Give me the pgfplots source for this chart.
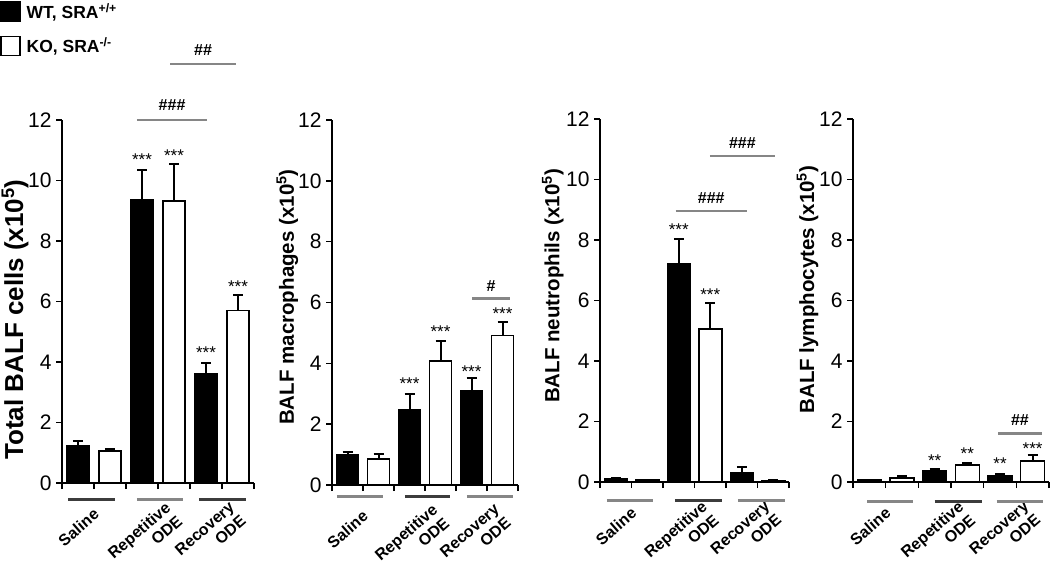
\documentclass[border=0pt]{standalone}
\usepackage{fontspec}
\setmainfont{Liberation Sans}
\usepackage{pgfplots}
\usepackage{pgfplotstable}
\pgfplotsset{compat=1.18}
\definecolor{dk}{HTML}{3C3C3C}
\definecolor{gr}{HTML}{868686}

\pgfplotstableread{
x y e
0.5 1.24 0.14
2.5 9.38 0.96
4.5 3.60 0.36
}\wtA
\pgfplotstableread{
x y e
1.5 1.05 0.08
3.5 9.33 1.23
5.5 5.70 0.52
}\koA
\pgfplotstableread{
x y e
0.5 1.00 0.08
2.5 2.47 0.51
4.5 3.10 0.42
}\wtB
\pgfplotstableread{
x y e
1.5 0.86 0.17
3.5 4.07 0.68
5.5 4.91 0.44
}\koB
\pgfplotstableread{
x y e
0.5 0.11 0.02
2.5 7.20 0.82
4.5 0.30 0.20
}\wtC
\pgfplotstableread{
x y e
1.5 0.06 0.02
3.5 5.05 0.88
5.5 0.05 0.01
}\koC
\pgfplotstableread{
x y e
0.5 0.06 0.01
2.5 0.38 0.05
4.5 0.22 0.06
}\wtD
\pgfplotstableread{
x y e
1.5 0.14 0.07
3.5 0.56 0.07
5.5 0.69 0.19
}\koD

\pgfplotsset{
 panel/.style={
  scale only axis, clip=false,
  axis lines*=left, axis line style={line width=1.4bp, black},
  xmin=0, xmax=6, ymin=0, ymax=12,
  ytick={0,2,...,12}, xtick={0,...,6}, xticklabels={},
  tick align=outside, major tick length=6bp, tick style={line width=1.4bp, black},
  extra x ticks={1,3,5},
  extra x tick labels={Saline\hspace*{10bp},{Repetitive\\ODE},{Recovery\\ODE}},
  extra x tick style={major tick length=0pt,
    xticklabel style={xshift=6bp, yshift=-17.5bp, rotate=41, anchor=north east, align=right, inner sep=0pt,
      font=\bfseries\fontsize{16bp}{18bp}\selectfont}},
  yticklabel style={font=\fontsize{21bp}{21bp}\selectfont, xshift=-1bp},
  /pgf/number format/assume math mode=true,
  ylabel style={font=\bfseries\fontsize{20.5bp}{21bp}\selectfont, anchor=center},
 },
 ebar/.style={error bars/y dir=plus, error bars/y explicit,
   error bars/error bar style={line width=2bp, black},
   error bars/error mark options={rotate=90, mark size=5bp, line width=2bp, black}},
 wt/.style={ybar, bar shift=0pt, fill=black, draw=black, line width=1.5bp, ebar},
 ko/.style={ybar, bar shift=0pt, fill=white, draw=black, line width=1.5bp, ebar},
 sig/.style={gr, line width=2.5bp, forget plot},
}
\newcommand{\st}[3]{\node[font=\fontsize{17bp}{17bp}\selectfont, anchor=base, inner sep=0pt] at (axis cs:#1,#2) {#3};}
\newcommand{\hs}[3]{\node[font=\bfseries\fontsize{16bp}{16bp}\selectfont, anchor=center, inner sep=0pt] at (axis cs:#1,#2) {#3};}

\begin{document}
\begin{tikzpicture}
\path[use as bounding box] (0,0) rectangle (1050bp,561bp);

% Panel 1
\begin{axis}[panel, at={(62bp,78bp)}, anchor=south west, width=192bp, height=363bp,
  ylabel={Total BALF cells (x10\textsuperscript{5})},
  ylabel style={at={(axis description cs:-0.245,0.45)}, font=\bfseries\fontsize{26bp}{26bp}\selectfont},
  legend style={at={(axis description cs:-0.323,1.328)}, anchor=north west, draw=none, fill=none,
    inner sep=0pt, font=\bfseries\fontsize{17.5bp}{18bp}\selectfont, row sep=14bp},
  legend cell align=left]
\addplot[wt, bar width=22bp, legend image code/.code={\draw[fill=black, draw=black, line width=1.5bp] (0bp,-9.5bp) rectangle (19bp,9.5bp);}] table[x=x, y=y, y error=e] {\wtA};
\addlegendentry{\hspace*{4bp}WT, SRA\textsuperscript{+/+}}
\addplot[ko, bar width=22bp, legend image code/.code={\draw[fill=white, draw=black, line width=1.5bp] (0bp,-9.5bp) rectangle (19bp,9.5bp);}] table[x=x, y=y, y error=e] {\koA};
\addlegendentry{\hspace*{4bp}KO, SRA\textsuperscript{-/-}}
\addplot[dk, line width=3bp, forget plot] coordinates {(0.19,-0.53) (1.66,-0.53)};
\addplot[gr, line width=3bp, forget plot] coordinates {(2.34,-0.53) (3.78,-0.53)};
\addplot[dk, line width=3bp, forget plot] coordinates {(4.28,-0.53) (5.75,-0.53)};
\addplot[sig] coordinates {(2.34,12.0) (4.53,12.0)};
\addplot[sig] coordinates {(3.38,13.85) (5.44,13.85)};
\st{2.5}{10.5}{***}\st{3.5}{10.62}{***}\st{4.5}{4.1}{***}\st{5.5}{6.3}{***}
\hs{3.44}{12.5}{\#\#\#}\hs{4.41}{14.3}{\#\#}
\end{axis}

% Panel 2
\begin{axis}[panel, at={(332bp,76bp)}, anchor=south west, width=186bp, height=365bp,
  ylabel={BALF macrophages (x10\textsuperscript{5})},
  ylabel style={at={(axis description cs:-0.24,0.515)}}]
\addplot[wt, bar width=22bp] table[x=x, y=y, y error=e] {\wtB};
\addplot[ko, bar width=22bp] table[x=x, y=y, y error=e] {\koB};
\addplot[gr, line width=3bp] coordinates {(0.16,-0.37) (1.65,-0.37)};
\addplot[dk, line width=3bp] coordinates {(2.35,-0.37) (3.80,-0.37)};
\addplot[gr, line width=3bp] coordinates {(4.35,-0.37) (5.84,-0.37)};
\addplot[sig] coordinates {(4.52,6.13) (5.74,6.13)};
\st{2.5}{3.13}{***}\st{3.5}{4.85}{***}\st{4.5}{3.55}{***}\st{5.5}{5.45}{***}
\hs{5.13}{6.55}{\#}
\end{axis}

% Panel 3
\begin{axis}[panel, at={(600bp,79bp)}, anchor=south west, width=189bp, height=363bp,
  ylabel={BALF neutrophils (x10\textsuperscript{5})},
  ylabel style={at={(axis description cs:-0.25,0.54)}}]
\addplot[wt, bar width=23bp] table[x=x, y=y, y error=e] {\wtC};
\addplot[ko, bar width=23bp] table[x=x, y=y, y error=e] {\koC};
\addplot[gr, line width=3bp] coordinates {(0.22,-0.6) (1.68,-0.6)};
\addplot[dk, line width=3bp] coordinates {(2.38,-0.6) (3.87,-0.6)};
\addplot[gr, line width=3bp] coordinates {(4.38,-0.6) (5.87,-0.6)};
\addplot[sig] coordinates {(2.40,8.96) (4.66,8.96)};
\addplot[sig] coordinates {(3.49,10.78) (5.56,10.78)};
\st{2.5}{8.16}{***}\st{3.5}{6.01}{***}
\hs{3.53}{9.4}{\#\#\#}\hs{4.52}{11.2}{\#\#\#}
\end{axis}

% Panel 4
\begin{axis}[panel, at={(853bp,79bp)}, anchor=south west, width=196bp, height=363bp,
  ylabel={BALF lymphocytes (x10\textsuperscript{5})},
  ylabel style={at={(axis description cs:-0.232,0.53)}}]
\addplot[wt, bar width=24bp] table[x=x, y=y, y error=e] {\wtD};
\addplot[ko, bar width=24bp] table[x=x, y=y, y error=e] {\koD};
\addplot[gr, line width=3bp] coordinates {(0.43,-0.64) (1.84,-0.64)};
\addplot[dk, line width=3bp] coordinates {(2.50,-0.64) (3.96,-0.64)};
\addplot[gr, line width=3bp] coordinates {(4.40,-0.64) (5.83,-0.64)};
\addplot[sig] coordinates {(4.45,1.61) (5.78,1.61)};
\st{2.5}{0.5}{**}\st{3.5}{0.76}{**}\st{4.5}{0.42}{**}\st{5.5}{0.92}{***}
\hs{5.11}{2.05}{\#\#}
\end{axis}
\end{tikzpicture}
\end{document}
